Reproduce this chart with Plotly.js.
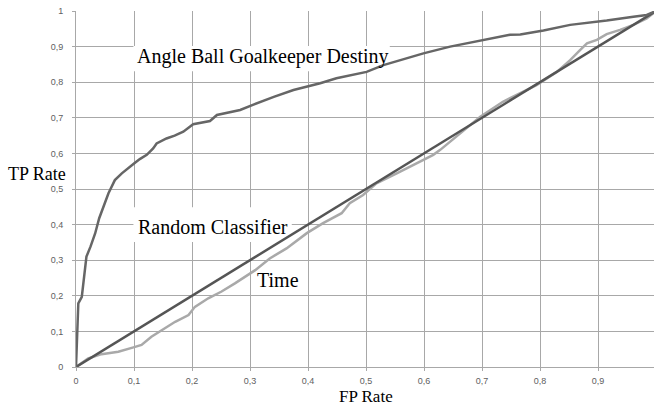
<!DOCTYPE html>
<html>
<head>
<meta charset="utf-8">
<script src="https://cdn.plot.ly/plotly-3.0.1.min.js"></script>
<style>
html,body{margin:0;padding:0;background:#fff;overflow:hidden;}
#chart{width:654px;height:405px;}
</style>
</head>
<body>
<div id="chart"></div>
<script>
// Angle Ball Goalkeeper Destiny ROC curve
const angleFpr = [0,0.001,0.002,0.004,0.01,0.013,0.016,0.018,0.025,0.033,0.04,0.047,0.056,0.067,0.079,0.099,0.11,0.122,0.133,0.139,0.156,0.17,0.185,0.202,0.231,0.243,0.271,0.283,0.306,0.341,0.375,0.403,0.421,0.449,0.501,0.53,0.559,0.599,0.645,0.691,0.714,0.748,0.766,0.806,0.852,0.915,0.961,0.984,1];
const angleTpr = [0,0.06,0.12,0.179,0.197,0.244,0.282,0.31,0.338,0.375,0.418,0.45,0.488,0.525,0.544,0.57,0.584,0.596,0.614,0.628,0.642,0.65,0.661,0.682,0.691,0.708,0.717,0.722,0.737,0.759,0.778,0.789,0.797,0.811,0.829,0.848,0.862,0.881,0.9,0.914,0.923,0.933,0.934,0.945,0.961,0.973,0.984,0.989,1];
// Random classifier
const randFpr = [0,1];
const randTpr = [0,1];
// Time ROC curve
const timeFpr = [0,0.021,0.044,0.073,0.099,0.113,0.13,0.148,0.171,0.194,0.205,0.228,0.251,0.274,0.297,0.309,0.334,0.363,0.398,0.426,0.458,0.472,0.495,0.518,0.553,0.587,0.616,0.628,0.662,0.697,0.736,0.748,0.794,0.829,0.852,0.869,0.881,0.898,0.915,0.938,0.961,0.984,1];
const timeTpr = [0,0.024,0.036,0.043,0.055,0.062,0.085,0.104,0.127,0.146,0.169,0.193,0.212,0.235,0.258,0.272,0.305,0.333,0.376,0.404,0.432,0.46,0.483,0.516,0.544,0.572,0.596,0.61,0.656,0.703,0.745,0.755,0.792,0.829,0.862,0.89,0.909,0.919,0.935,0.947,0.961,0.979,1];
const labels = ["Angle Ball Goalkeeper Destiny","Random Classifier","Time"];

const traces = [
  {x: timeFpr, y: timeTpr, mode:'lines', line:{color:'#a9a9a9', width:2.5}, name:labels[2]},
  {x: randFpr, y: randTpr, mode:'lines', line:{color:'#555555', width:2.5}, name:labels[1]},
  {x: angleFpr, y: angleTpr, mode:'lines', line:{color:'#666666', width:2.5}, name:labels[0]}
];

const serif = 'Liberation Serif, Times New Roman, serif';
const tickFont = {family:'Liberation Sans, Arial, sans-serif', size:9, color:'#606060'};
const layout = {
  width:654, height:405,
  margin:{l:76, r:0, t:11, b:38},
  paper_bgcolor:'#fff', plot_bgcolor:'#fff',
  showlegend:false,
  separators:',.',
  xaxis:{range:[0,0.99655], dtick:0.1, tick0:0, showgrid:true, gridcolor:'#a8a8a8', gridwidth:1,
         zeroline:false, showline:true, linecolor:'#a8a8a8', linewidth:1,
         ticks:'outside', ticklen:3, tickcolor:'#a8a8a8', ticklabelstandoff:2, tickfont:tickFont},
  yaxis:{range:[0,1], dtick:0.1, tick0:0, showgrid:true, gridcolor:'#a8a8a8', gridwidth:1,
         zeroline:false, showline:true, linecolor:'#a8a8a8', linewidth:1,
         ticks:'outside', ticklen:3, tickcolor:'#a8a8a8', ticklabelstandoff:7, tickfont:tickFont},
  shapes:[
    {type:'rect', layer:'between', xref:'x', yref:'y', x0:0.099, x1:0.541, y0:0.831, y1:0.902,
     fillcolor:'#fff', line:{width:0}},
    {type:'rect', layer:'between', xref:'x', yref:'y', x0:0.099, x1:0.372, y0:0.351, y1:0.449,
     fillcolor:'#fff', line:{width:0}}
  ],
  annotations:[
    {text:labels[0], x:0.1017, y:0.871, xref:'x', yref:'y', xanchor:'left', yanchor:'middle', showarrow:false,
     font:{family:serif, size:20, color:'#000'}},
    {text:labels[1], x:0.1034, y:0.393, xref:'x', yref:'y', xanchor:'left', yanchor:'middle', showarrow:false,
     font:{family:serif, size:20, color:'#000'}},
    {text:labels[2], x:0.3086, y:0.244, xref:'x', yref:'y', xanchor:'left', yanchor:'middle', showarrow:false,
     font:{family:serif, size:20, color:'#000'}},
    {text:'TP Rate', x:-70/578, y:(367-174)/356, xref:'paper', yref:'paper', xanchor:'left', yanchor:'middle', showarrow:false,
     font:{family:serif, size:18, color:'#000'}},
    {text:'FP Rate', x:0.5, y:(367-407)/356, xref:'x', yref:'paper', xanchor:'center', yanchor:'bottom', showarrow:false,
     borderpad:0, font:{family:serif, size:17, color:'#000'}}
  ]
};
Plotly.newPlot('chart', traces, layout, {staticPlot:true, displayModeBar:false});
</script>
</body>
</html>
